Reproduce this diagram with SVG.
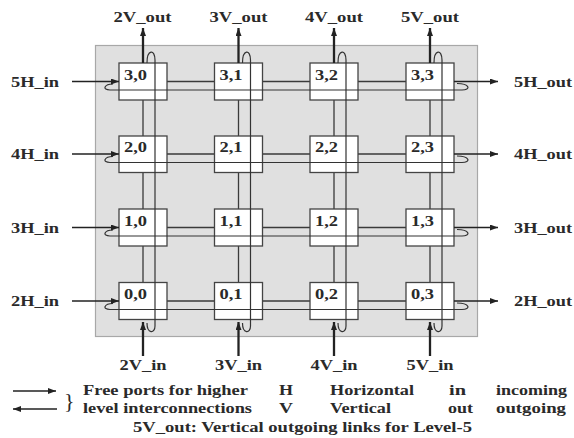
<svg xmlns="http://www.w3.org/2000/svg" width="574" height="438" viewBox="0 0 574 438">
<style>
text{font-family:"Liberation Serif","Times New Roman",serif;font-weight:bold;font-size:14px;fill:#2a2a2a}
.bg{fill:#e0e0e0;stroke:#a8a8a8;stroke-width:1.2}
.box{fill:#fff;stroke:#444;stroke-width:1.3}
.mesh{stroke:#3a3a3a;stroke-width:1.3;fill:none}
.loop{stroke:#333;stroke-width:1.2;fill:none}
.vio{stroke:#222;stroke-width:2.3;fill:none}
.hio{stroke:#222;stroke-width:1.5;fill:none}
.lg{stroke:#222;stroke-width:1.3;fill:none}
</style>
<defs>
<marker id="ah" markerUnits="userSpaceOnUse" markerWidth="8" markerHeight="6" refX="8" refY="3" orient="auto">
<path d="M0,0 L8,3 L0,6 z" fill="#222"/>
</marker>
</defs>
<rect class="bg" x="95.5" y="45.5" width="382" height="291"/>
<g id="connectors">
<path class="mesh" d="M143 100V136M143 172.5V209M143 246V282.5 M238.5 100V136M238.5 172.5V209M238.5 246V282.5 M334 100V136M334 172.5V209M334 246V282.5 M430 100V136M430 172.5V209M430 246V282.5"/>
<path class="mesh" d="M167 81.5H214.5M262.5 81.5H310M358 81.5H406 M167 154H214.5M262.5 154H310M358 154H406 M167 227.5H214.5M262.5 227.5H310M358 227.5H406 M167 301H214.5M262.5 301H310M358 301H406"/>
</g>
<g id="n30"><rect class="box" x="119" y="63" width="48" height="37"/><text x="124" y="79.5" textLength="23" lengthAdjust="spacingAndGlyphs">3,0</text></g>
<g id="n31"><rect class="box" x="214.5" y="63" width="48" height="37"/><text x="219.5" y="79.5" textLength="23" lengthAdjust="spacingAndGlyphs">3,1</text></g>
<g id="n32"><rect class="box" x="310" y="63" width="48" height="37"/><text x="315" y="79.5" textLength="23" lengthAdjust="spacingAndGlyphs">3,2</text></g>
<g id="n33"><rect class="box" x="406" y="63" width="48" height="37"/><text x="411" y="79.5" textLength="23" lengthAdjust="spacingAndGlyphs">3,3</text></g>
<g id="n20"><rect class="box" x="119" y="136" width="48" height="36.5"/><text x="124" y="152" textLength="23" lengthAdjust="spacingAndGlyphs">2,0</text></g>
<g id="n21"><rect class="box" x="214.5" y="136" width="48" height="36.5"/><text x="219.5" y="152" textLength="23" lengthAdjust="spacingAndGlyphs">2,1</text></g>
<g id="n22"><rect class="box" x="310" y="136" width="48" height="36.5"/><text x="315" y="152" textLength="23" lengthAdjust="spacingAndGlyphs">2,2</text></g>
<g id="n23"><rect class="box" x="406" y="136" width="48" height="36.5"/><text x="411" y="152" textLength="23" lengthAdjust="spacingAndGlyphs">2,3</text></g>
<g id="n10"><rect class="box" x="119" y="209" width="48" height="37"/><text x="124" y="225.5" textLength="23" lengthAdjust="spacingAndGlyphs">1,0</text></g>
<g id="n11"><rect class="box" x="214.5" y="209" width="48" height="37"/><text x="219.5" y="225.5" textLength="23" lengthAdjust="spacingAndGlyphs">1,1</text></g>
<g id="n12"><rect class="box" x="310" y="209" width="48" height="37"/><text x="315" y="225.5" textLength="23" lengthAdjust="spacingAndGlyphs">1,2</text></g>
<g id="n13"><rect class="box" x="406" y="209" width="48" height="37"/><text x="411" y="225.5" textLength="23" lengthAdjust="spacingAndGlyphs">1,3</text></g>
<g id="n00"><rect class="box" x="119" y="282.5" width="48" height="37"/><text x="124" y="299" textLength="23" lengthAdjust="spacingAndGlyphs">0,0</text></g>
<g id="n01"><rect class="box" x="214.5" y="282.5" width="48" height="37"/><text x="219.5" y="299" textLength="23" lengthAdjust="spacingAndGlyphs">0,1</text></g>
<g id="n02"><rect class="box" x="310" y="282.5" width="48" height="37"/><text x="315" y="299" textLength="23" lengthAdjust="spacingAndGlyphs">0,2</text></g>
<g id="n03"><rect class="box" x="406" y="282.5" width="48" height="37"/><text x="411" y="299" textLength="23" lengthAdjust="spacingAndGlyphs">0,3</text></g>
<g id="loops">
<path class="loop" d="M147 63C147 49 155 49 155 60V326C155 334 147 334 147 323"/>
<path class="loop" d="M242.5 63C242.5 49 250.5 49 250.5 60V326C250.5 334 242.5 334 242.5 323"/>
<path class="loop" d="M338 63C338 49 346 49 346 60V326C346 334 338 334 338 323"/>
<path class="loop" d="M434 63C434 49 442 49 442 60V326C442 334 434 334 434 323"/>
<path class="loop" d="M113 84C104 84 102 90 110 90H462C471 90 470 83.5 457 83.5"/>
<path class="loop" d="M113 156.5C104 156.5 102 162.5 110 162.5H462C471 162.5 470 156 457 156"/>
<path class="loop" d="M113 230C104 230 102 236 110 236H462C471 236 470 229.5 457 229.5"/>
<path class="loop" d="M113 303.5C104 303.5 102 309.5 110 309.5H462C471 309.5 470 303 457 303"/>
</g>
<g id="io-arrows">
<path class="vio" d="M143 63V28" marker-end="url(#ah)"/>
<path class="vio" d="M238.5 63V28" marker-end="url(#ah)"/>
<path class="vio" d="M334 63V28" marker-end="url(#ah)"/>
<path class="vio" d="M430 63V28" marker-end="url(#ah)"/>
<path class="vio" d="M143 356V322" marker-end="url(#ah)"/>
<path class="vio" d="M238.5 356V322" marker-end="url(#ah)"/>
<path class="vio" d="M334 356V322" marker-end="url(#ah)"/>
<path class="vio" d="M430 356V322" marker-end="url(#ah)"/>
<path class="hio" d="M72 81.5H119" marker-end="url(#ah)"/>
<path class="hio" d="M72 154H119" marker-end="url(#ah)"/>
<path class="hio" d="M72 227.5H119" marker-end="url(#ah)"/>
<path class="hio" d="M72 301H119" marker-end="url(#ah)"/>
<path class="hio" d="M454 81.5H498" marker-end="url(#ah)"/>
<path class="hio" d="M454 154H498" marker-end="url(#ah)"/>
<path class="hio" d="M454 227.5H498" marker-end="url(#ah)"/>
<path class="hio" d="M454 301H498" marker-end="url(#ah)"/>
</g>
<g id="labels">
<text x="113.5" y="22" textLength="58" lengthAdjust="spacingAndGlyphs">2V_out</text>
<text x="209.5" y="22" textLength="58" lengthAdjust="spacingAndGlyphs">3V_out</text>
<text x="305" y="22" textLength="58" lengthAdjust="spacingAndGlyphs">4V_out</text>
<text x="401" y="22" textLength="58" lengthAdjust="spacingAndGlyphs">5V_out</text>
<text x="119.5" y="369.5" textLength="47" lengthAdjust="spacingAndGlyphs">2V_in</text>
<text x="215" y="369.5" textLength="47" lengthAdjust="spacingAndGlyphs">3V_in</text>
<text x="310.5" y="369.5" textLength="47" lengthAdjust="spacingAndGlyphs">4V_in</text>
<text x="406.5" y="369.5" textLength="47" lengthAdjust="spacingAndGlyphs">5V_in</text>
<text x="11" y="86.5" textLength="48" lengthAdjust="spacingAndGlyphs">5H_in</text>
<text x="11" y="159" textLength="48" lengthAdjust="spacingAndGlyphs">4H_in</text>
<text x="11" y="232.5" textLength="48" lengthAdjust="spacingAndGlyphs">3H_in</text>
<text x="11" y="306" textLength="48" lengthAdjust="spacingAndGlyphs">2H_in</text>
<text x="514" y="86.5" textLength="58" lengthAdjust="spacingAndGlyphs">5H_out</text>
<text x="514" y="159" textLength="58" lengthAdjust="spacingAndGlyphs">4H_out</text>
<text x="514" y="232.5" textLength="58" lengthAdjust="spacingAndGlyphs">3H_out</text>
<text x="514" y="306" textLength="58" lengthAdjust="spacingAndGlyphs">2H_out</text>
</g>
<g id="legend">
<path class="lg" d="M13 391H56" marker-end="url(#ah)"/>
<path class="lg" d="M57 409H13" marker-end="url(#ah)"/>
<text x="64" y="408" style="font-weight:normal;font-size:22px">}</text>
<text x="83" y="395" textLength="165" lengthAdjust="spacingAndGlyphs">Free ports for higher</text>
<text x="83" y="413" textLength="169" lengthAdjust="spacingAndGlyphs">level interconnections</text>
<text x="279" y="395" textLength="14" lengthAdjust="spacingAndGlyphs">H</text>
<text x="279" y="413" textLength="14" lengthAdjust="spacingAndGlyphs">V</text>
<text x="330" y="395" textLength="84" lengthAdjust="spacingAndGlyphs">Horizontal</text>
<text x="330" y="413" textLength="61" lengthAdjust="spacingAndGlyphs">Vertical</text>
<text x="449" y="395" textLength="17" lengthAdjust="spacingAndGlyphs">in</text>
<text x="448" y="413" textLength="25" lengthAdjust="spacingAndGlyphs">out</text>
<text x="496" y="395" textLength="71" lengthAdjust="spacingAndGlyphs">incoming</text>
<text x="496" y="413" textLength="70" lengthAdjust="spacingAndGlyphs">outgoing</text>
<text x="133" y="432" textLength="339" lengthAdjust="spacingAndGlyphs">5V_out: Vertical outgoing links for Level-5</text>
</g>
</svg>
